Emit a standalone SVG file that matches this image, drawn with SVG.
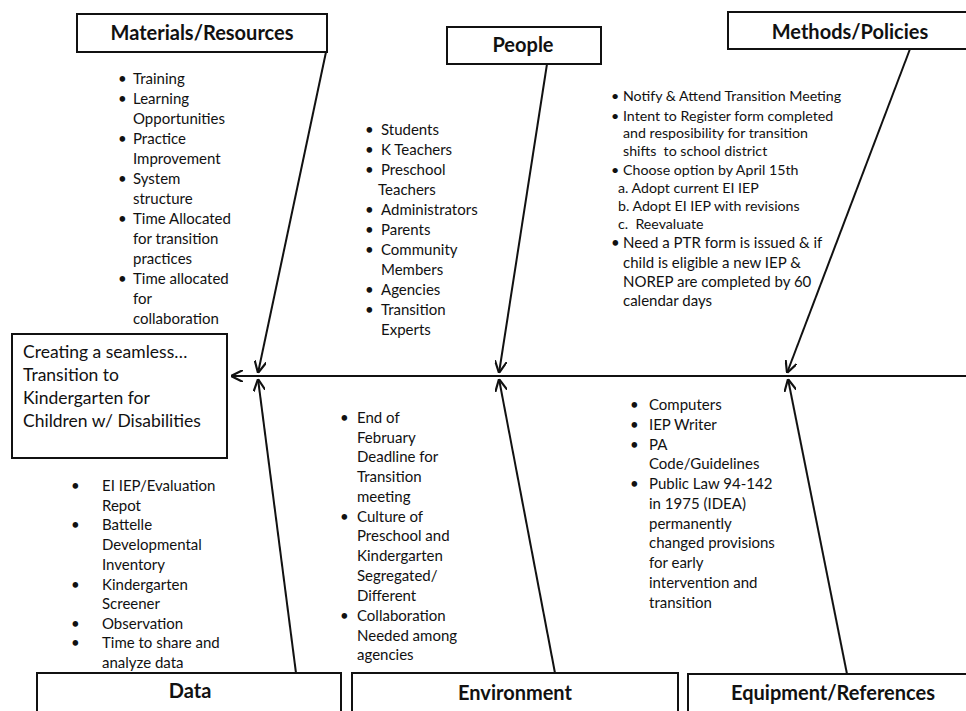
<svg xmlns="http://www.w3.org/2000/svg" width="966" height="711" viewBox="0 0 966 711">
<defs>
<style>
.box{fill:#fff;stroke:#111;stroke-width:2}
.hd{font-family:Lato,"Liberation Sans",sans-serif;font-weight:bold;font-size:20px;fill:#111;text-anchor:middle}
.tx{font-family:Lato,"Liberation Sans",sans-serif;font-size:15px;fill:#111}
.sm{font-family:Lato,"Liberation Sans",sans-serif;font-size:14.2px;fill:#111}
.mn{font-family:Lato,"Liberation Sans",sans-serif;font-size:17.5px;fill:#111}
.ln{stroke:#111;stroke-width:2;fill:none}
</style>
<marker id="arr" viewBox="0 0 10 10" refX="10" refY="5" markerWidth="6" markerHeight="6" orient="auto" markerUnits="strokeWidth">
<path d="M0,0 L10,5 L0,10" fill="none" stroke="#111" stroke-width="1.8"/>
</marker>
</defs>
<rect width="966" height="711" fill="#fff"/>

<g id="connectors">
<line class="ln" x1="966" y1="376" x2="231" y2="376" marker-end="url(#arr)"/>
<line class="ln" x1="326" y1="52" x2="258" y2="373" marker-end="url(#arr)"/>
<line class="ln" x1="296" y1="673" x2="258" y2="379" marker-end="url(#arr)"/>
<line class="ln" x1="547" y1="64" x2="499" y2="373" marker-end="url(#arr)"/>
<line class="ln" x1="555" y1="673" x2="499" y2="379" marker-end="url(#arr)"/>
<line class="ln" x1="910" y1="49" x2="787" y2="373" marker-end="url(#arr)"/>
<line class="ln" x1="847" y1="674" x2="788" y2="379" marker-end="url(#arr)"/>
</g>

<g id="effect">
<rect class="box" x="12" y="334" width="215" height="124"/>
<text class="mn" x="23" y="358">Creating a seamless…</text>
<text class="mn" x="23" y="381">Transition to</text>
<text class="mn" x="23" y="404">Kindergarten for</text>
<text class="mn" x="23" y="427">Children w/ Disabilities</text>
</g>

<g id="materials">
<rect class="box" x="77" y="14" width="250" height="38"/>
<text class="hd" x="202" y="40">Materials/Resources</text>
<g class="tx">
<text x="118" y="84">•</text><text x="133" y="84">Training</text>
<text x="118" y="104">•</text><text x="133" y="104">Learning</text>
<text x="133" y="124">Opportunities</text>
<text x="118" y="144">•</text><text x="133" y="144">Practice</text>
<text x="133" y="164">Improvement</text>
<text x="118" y="184">•</text><text x="133" y="184">System</text>
<text x="133" y="204">structure</text>
<text x="118" y="224">•</text><text x="133" y="224">Time Allocated</text>
<text x="133" y="244">for transition</text>
<text x="133" y="264">practices</text>
<text x="118" y="284">•</text><text x="133" y="284">Time allocated</text>
<text x="133" y="304">for</text>
<text x="133" y="324">collaboration</text>
</g>
</g>

<g id="people">
<rect class="box" x="447" y="27" width="154" height="37"/>
<text class="hd" x="523" y="52">People</text>
<g class="tx">
<text x="365" y="135">•</text><text x="381" y="135">Students</text>
<text x="365" y="155">•</text><text x="381" y="155">K Teachers</text>
<text x="365" y="175">•</text><text x="381" y="175">Preschool</text>
<text x="378" y="195">Teachers</text>
<text x="365" y="215">•</text><text x="381" y="215">Administrators</text>
<text x="365" y="235">•</text><text x="381" y="235">Parents</text>
<text x="365" y="255">•</text><text x="381" y="255">Community</text>
<text x="381" y="275">Members</text>
<text x="365" y="295">•</text><text x="381" y="295">Agencies</text>
<text x="365" y="315">•</text><text x="381" y="315">Transition</text>
<text x="381" y="335">Experts</text>
</g>
</g>

<g id="methods">
<rect class="box" x="728" y="12" width="240" height="37"/>
<text class="hd" x="850" y="39">Methods/Policies</text>
<g class="sm">
<text x="611" y="101">•</text><text x="623" y="101">Notify &amp; Attend Transition Meeting</text>
<text x="611" y="121">•</text><text x="623" y="121">Intent to Register form completed</text>
<text x="623" y="138">and resposibility for transition</text>
<text x="623" y="156" xml:space="preserve">shifts  to school district</text>
<text x="611" y="175">•</text><text x="623" y="175">Choose option by April 15th</text>
<text x="618" y="193">a. Adopt current EI IEP</text>
<text x="618" y="211">b. Adopt EI IEP with revisions</text>
<text x="618" y="229" xml:space="preserve">c.  Reevaluate</text>
</g>
<g class="tx">
<text x="611" y="248">•</text><text x="623" y="248">Need a PTR form is issued &amp; if</text>
<text x="623" y="268">child is eligible a new IEP &amp;</text>
<text x="623" y="287">NOREP are completed by 60</text>
<text x="623" y="306">calendar days</text>
</g>
</g>

<g id="data">
<rect class="box" x="37" y="673" width="304" height="50"/>
<text class="hd" x="190" y="698">Data</text>
<g class="tx">
<text x="71" y="491">•</text><text x="102" y="491">EI IEP/Evaluation</text>
<text x="102" y="511">Repot</text>
<text x="71" y="530">•</text><text x="102" y="530">Battelle</text>
<text x="102" y="550">Developmental</text>
<text x="102" y="570">Inventory</text>
<text x="71" y="590">•</text><text x="102" y="590">Kindergarten</text>
<text x="102" y="609">Screener</text>
<text x="71" y="629">•</text><text x="102" y="629">Observation</text>
<text x="71" y="648">•</text><text x="102" y="648">Time to share and</text>
<text x="102" y="668">analyze data</text>
</g>
</g>

<g id="environment">
<rect class="box" x="352" y="673" width="326" height="50"/>
<text class="hd" x="515" y="700">Environment</text>
<g class="tx">
<text x="340" y="423">•</text><text x="357" y="423">End of</text>
<text x="357" y="443">February</text>
<text x="357" y="462">Deadline for</text>
<text x="357" y="482">Transition</text>
<text x="357" y="502">meeting</text>
<text x="340" y="522">•</text><text x="357" y="522">Culture of</text>
<text x="357" y="541">Preschool and</text>
<text x="357" y="561">Kindergarten</text>
<text x="357" y="581">Segregated/</text>
<text x="357" y="601">Different</text>
<text x="340" y="621">•</text><text x="357" y="621">Collaboration</text>
<text x="357" y="641">Needed among</text>
<text x="357" y="660">agencies</text>
</g>
</g>

<g id="equipment">
<rect class="box" x="688" y="674" width="290" height="50"/>
<text class="hd" x="833" y="700">Equipment/References</text>
<g class="tx">
<text x="630" y="410">•</text><text x="649" y="410">Computers</text>
<text x="630" y="430">•</text><text x="649" y="430">IEP Writer</text>
<text x="630" y="450">•</text><text x="649" y="450">PA</text>
<text x="649" y="469">Code/Guidelines</text>
<text x="630" y="489">•</text><text x="649" y="489">Public Law 94-142</text>
<text x="649" y="509">in 1975 (IDEA)</text>
<text x="649" y="529">permanently</text>
<text x="649" y="548">changed provisions</text>
<text x="649" y="568">for early</text>
<text x="649" y="588">intervention and</text>
<text x="649" y="608">transition</text>
</g>
</g>
</svg>
